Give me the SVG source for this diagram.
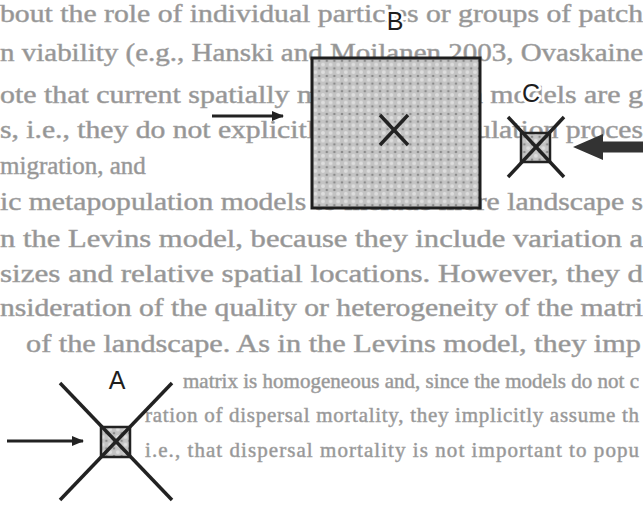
<svg xmlns="http://www.w3.org/2000/svg" width="643" height="507" viewBox="0 0 643 507">
<style>
.bg{font-family:"Liberation Serif","DejaVu Serif",serif;font-size:25px;fill:#949494;stroke:#a4a4a4;stroke-width:0.5}
.sm{font-size:21px}
.lbl{font-family:"Liberation Sans",Arial,sans-serif;font-size:25px;fill:#1e1e1e;text-anchor:middle;stroke:#ffffff;stroke-width:5;paint-order:stroke;stroke-linejoin:round}
.x{stroke:#222;stroke-width:3.5;stroke-linecap:butt}
.box{stroke:#1e1e1e;stroke-width:3}
.thin{stroke:#222;stroke-width:3}
</style>
<defs>
<pattern id="dots" width="7.6" height="7.6" patternUnits="userSpaceOnUse">
<rect width="7.6" height="7.6" fill="#c3c3c3"/>
<circle cx="3.8" cy="3.8" r="2" fill="#dedede"/>
<circle cx="0" cy="0" r="1.3" fill="#8a8a8a"/>
<circle cx="7.6" cy="0" r="1.3" fill="#8a8a8a"/>
<circle cx="0" cy="7.6" r="1.3" fill="#8a8a8a"/>
<circle cx="7.6" cy="7.6" r="1.3" fill="#8a8a8a"/>
</pattern>
<marker id="ah" markerWidth="12" markerHeight="10" refX="11" refY="5" orient="auto" markerUnits="userSpaceOnUse">
<path d="M0,0 L12,5 L0,10 Z" fill="#222"/>
</marker>
</defs>
<rect width="643" height="507" fill="#ffffff"/>
<g id="page-text" class="bg">
<text x="0" y="22" textLength="643" lengthAdjust="spacingAndGlyphs">bout the role of individual particles or groups of patch</text>
<text x="0" y="61" textLength="643" lengthAdjust="spacingAndGlyphs">n viability (e.g., Hanski and Moilanen 2003, Ovaskaine</text>
<text x="0" y="103" textLength="643" lengthAdjust="spacingAndGlyphs">ote that current spatially metapopulation models are g</text>
<text x="0" y="138" textLength="643" lengthAdjust="spacingAndGlyphs">s, i.e., they do not explicitly include population proces</text>
<text x="0" y="174">migration, and</text>
<text x="0" y="210" textLength="643" lengthAdjust="spacingAndGlyphs">ic metapopulation models to include more landscape s</text>
<text x="0" y="247" textLength="643" lengthAdjust="spacingAndGlyphs">n the Levins model, because they include variation a</text>
<text x="0" y="282" textLength="643" lengthAdjust="spacingAndGlyphs">sizes and relative spatial locations. However, they d</text>
<text x="0" y="316" textLength="643" lengthAdjust="spacingAndGlyphs">nsideration of the quality or heterogeneity of the matri</text>
<text x="26" y="352" textLength="615" lengthAdjust="spacingAndGlyphs">of the landscape. As in the Levins model, they imp</text>
<text class="sm" x="183" y="388" textLength="456" lengthAdjust="spacing">matrix is homogeneous and, since the models do not c</text>
<text class="sm" x="145" y="422" textLength="494" lengthAdjust="spacing">ration of dispersal mortality, they implicitly assume th</text>
<text class="sm" x="145" y="457" textLength="494" lengthAdjust="spacing">i.e., that dispersal mortality is not important to popu</text>
</g>
<g id="node-B">
<text class="lbl" x="395" y="30">B</text>
<rect class="box" x="312" y="58" width="168" height="150" fill="url(#dots)"/>
<line class="x" x1="380" y1="115" x2="408" y2="145"/>
<line class="x" x1="408" y1="115" x2="380" y2="145"/>
</g>
<g id="node-C">
<text class="lbl" x="531" y="102">C</text>
<rect x="521" y="133" width="29" height="29" fill="url(#dots)" stroke="#222" stroke-width="2.5"/>
<line class="x" stroke-width="3" x1="508" y1="117" x2="564" y2="177"/>
<line class="x" stroke-width="3" x1="564" y1="117" x2="508" y2="177"/>
</g>
<g id="node-A">
<text class="lbl" x="117" y="389">A</text>
<rect x="101" y="427" width="29" height="30" fill="url(#dots)" stroke="#222" stroke-width="2.5"/>
<line class="x" x1="60" y1="383" x2="172" y2="500"/>
<line class="x" x1="172" y1="383" x2="60" y2="500"/>
</g>
<g id="connectors">
<line class="thin" x1="212" y1="116" x2="283" y2="116" marker-end="url(#ah)"/>
<line class="thin" x1="7" y1="441" x2="83" y2="441" marker-end="url(#ah)"/>
<path d="M643,141.5 L603,141.5 L603,134 L573,147 L603,160 L603,152.5 L643,152.5 Z" fill="#333"/>
</g>
</svg>
